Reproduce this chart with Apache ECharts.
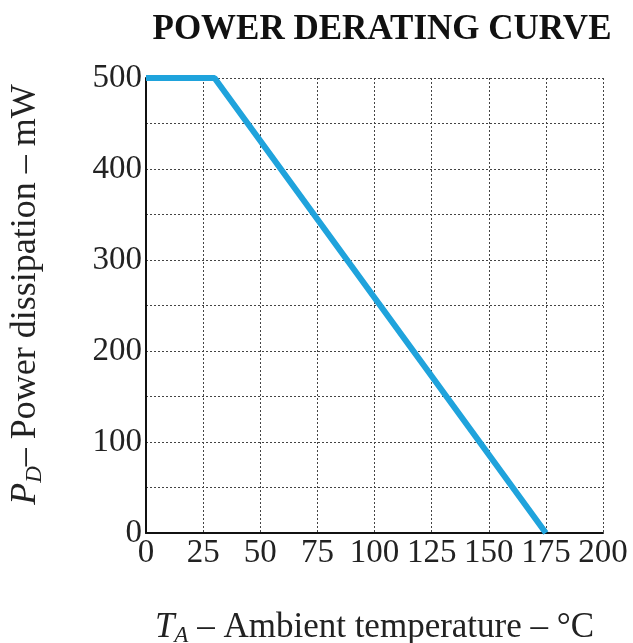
<!DOCTYPE html>
<html><head><meta charset="utf-8">
<script src="https://cdn.jsdelivr.net/npm/echarts@6/dist/echarts.min.js"></script>
<style>html,body{margin:0;padding:0;background:#fff}#c{width:633px;height:643px}</style>
</head><body><div id="c"></div>
<script>
var temperature = [0, 30, 175];
var power = [500, 500, 0];
var xTicks = [0, 25, 50, 75, 100, 125, 150, 175, 200];
var yTicks = [0, 100, 200, 300, 400, 500];

var F = '"Liberation Serif", "DejaVu Serif", serif';
var data = temperature.map(function (t, i) { return [t, power[i]]; });
function richName(fs) {
  return {
    i: { fontFamily: F, fontStyle: 'italic', fontSize: fs, color: '#222' },
    s: { fontFamily: F, fontStyle: 'italic', fontSize: Math.round(fs * 0.65), color: '#222', verticalAlign: 'bottom', padding: [Math.round(fs * 0.47), 0, 0, 0] },
    n: { fontFamily: F, fontSize: fs, color: '#222' }
  };
}
var chart = echarts.init(document.getElementById('c'));
chart.setOption({
  backgroundColor: '#fff',
  animation: false,
  title: {
    text: 'POWER DERATING CURVE', left: 377, top: 7, textAlign: 'center',
    textStyle: { fontFamily: F, fontWeight: 'bold', fontSize: 35, color: '#111' }
  },
  grid: { left: 146, right: 30, top: 78, bottom: 110, outerBoundsMode: 'none', containLabel: false },
  xAxis: {
    type: 'value', min: 0, max: 200, interval: 25,
    name: '{i|T}{s|A}{n| – Ambient temperature – °C}',
    nameLocation: 'middle', nameGap: 75,
    nameTextStyle: { rich: richName(35) },
    axisLine: { show: true, lineStyle: { color: '#111', width: 2 } },
    axisTick: { show: false },
    axisLabel: { fontFamily: F, fontSize: 33, color: '#222', margin: 4,
      formatter: function (v) { return xTicks.indexOf(v) >= 0 ? String(v) : ''; } },
    splitLine: { show: true, lineStyle: { color: '#444', type: [2, 2], width: 1 } }
  },
  yAxis: {
    type: 'value', min: 0, max: 500, interval: 50,
    name: '{i|P}{s|D}{n|– Power dissipation – mW}',
    nameLocation: 'middle', nameGap: 100, nameRotate: 90,
    nameTextStyle: { rich: richName(36), padding: [0, 0, 0, 22] },
    axisLine: { show: true, lineStyle: { color: '#111', width: 2 } },
    axisTick: { show: false },
    axisLabel: { fontFamily: F, fontSize: 33, color: '#222', margin: 4,
      formatter: function (v) { return yTicks.indexOf(v) >= 0 ? String(v) : ''; } },
    splitLine: { show: true, lineStyle: { color: '#444', type: [2, 2], width: 1 } }
  },
  series: [{
    type: 'line', data: data, symbol: 'none',
    lineStyle: { color: '#1fa3dc', width: 6 }
  }]
});
</script></body></html>
